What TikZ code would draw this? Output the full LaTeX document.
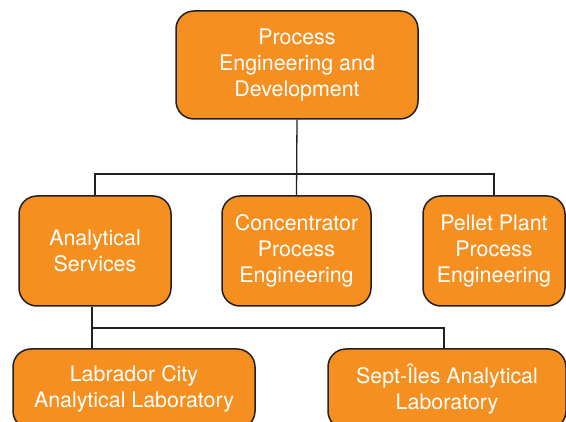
\documentclass[tikz,border=0pt]{standalone}
\usepackage{fontspec}
\setmainfont{TeX Gyre Heros}
\usepackage{tikz}
\usetikzlibrary{positioning,shapes,arrows}

\definecolor{unitorange}{RGB}{244,143,32}
\definecolor{unitline}{RGB}{35,31,32}

\tikzset{
    unit/.style={draw=unitline, line width=1.5pt, fill=unitorange, rounded corners=18pt,
        text=white, align=center, inner sep=0pt,
        font=\fontsize{21.4}{26}\selectfont},
    link/.style={draw=unitline, line width=1.3pt}
}

\begin{document}
\begin{tikzpicture}[x=1pt, y=-1pt]

\useasboundingbox (0,0) rectangle (566,422);
\clip (0,0) rectangle (566,422);

% --- Head of department ---
\node[unit, minimum width=242pt, minimum height=108pt] (ped) at (297,65)
    {Process\\Engineering and\\Development};

% --- Second level ---
\node[unit, minimum width=152pt, minimum height=110pt] (as) at (95,251)
    {Analytical\\Services};
\node[unit, minimum width=149pt, minimum height=110pt] (cpe) at (296.5,251)
    {Concentrator\\Process\\Engineering};
\node[unit, minimum width=142pt, minimum height=110pt] (ppe) at (494,251)
    {Pellet Plant\\Process\\Engineering};

% --- Laboratories ---
\node[unit, minimum width=242pt, minimum height=80pt] (lab) at (134,389)
    {Labrador City\\Analytical Laboratory};
\node[unit, minimum width=238pt, minimum height=80pt] (sil) at (447,389)
    {Sept-Îles Analytical\\Laboratory};

% --- Connectors ---
\coordinate (bus) at (0,174);
\coordinate (labbus) at (0,328);

\draw[link] (ped.south) -- (cpe.north);
\draw[link] (as.north) -- (as.north |- bus) -- (ppe.north |- bus) -- (ppe.north);

\draw[link] ([xshift=-3pt]as.south) -- ([xshift=-3pt]as.south |- lab.north);
\draw[link] ([xshift=-3pt]as.south |- labbus) -- ([xshift=-3pt]sil.north |- labbus)
    -- ([xshift=-3pt]sil.north);

\end{tikzpicture}
\end{document}
